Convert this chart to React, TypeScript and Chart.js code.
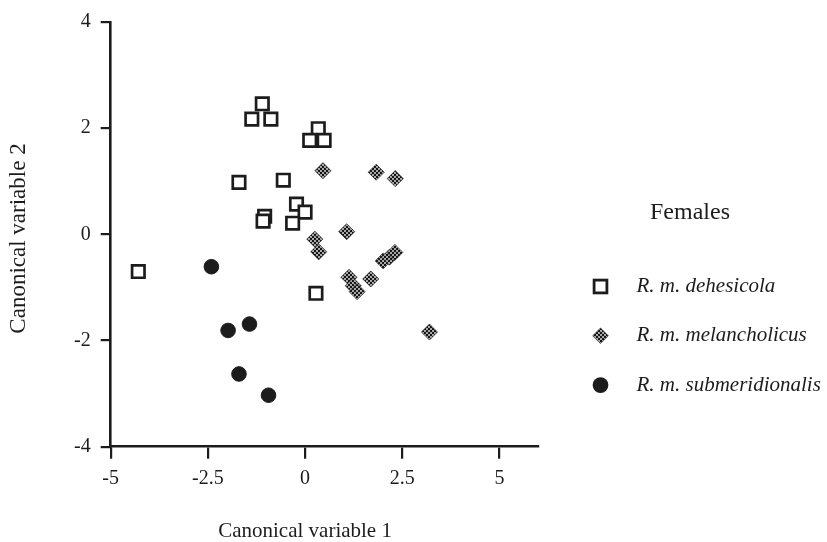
import React, { useEffect, useRef } from 'react';
import { Chart, registerables } from 'chart.js';

Chart.register(...registerables);

const seriesNames = ['R. m. dehesicola', 'R. m. melancholicus', 'R. m. submeridionalis'];

const dehesicolaX = [-1.1, -1.37, -0.88, 0.34, 0.12, 0.49, -1.7, -0.56, -0.22, 0.0, -0.32, -1.04, -1.08, -4.29, 0.28];
const dehesicolaY = [2.46, 2.17, 2.17, 1.99, 1.77, 1.77, 0.98, 1.02, 0.57, 0.42, 0.21, 0.34, 0.25, -0.7, -1.11];

const melancholicusX = [0.46, 1.83, 2.32, 0.25, 0.35, 1.07, 2.01, 2.17, 2.31, 1.13, 1.24, 1.34, 1.69, 3.2];
const melancholicusY = [1.2, 1.17, 1.05, -0.09, -0.33, 0.05, -0.5, -0.43, -0.34, -0.81, -0.97, -1.08, -0.84, -1.84];

const submeridionalisX = [-2.41, -1.98, -1.43, -1.7, -0.94];
const submeridionalisY = [-0.61, -1.81, -1.69, -2.63, -3.03];

const xTicks = [-5, -2.5, 0, 2.5, 5];
const yTicks = [-4, -2, 0, 2, 4];
const xTitle = 'Canonical variable 1';
const yTitle = 'Canonical variable 2';
const legendTitle = 'Females';

const FONT = '"Liberation Serif", "Times New Roman", serif';
const INK = '#1c1c1c';

const W = 827;
const H = 542;

function zip(xs: number[], ys: number[]) {
  return xs.map((x, i) => ({ x, y: ys[i] }));
}

function makePattern(): CanvasPattern | string {
  const pc = document.createElement('canvas');
  pc.width = 4;
  pc.height = 4;
  const g = pc.getContext('2d');
  if (!g) return '#555';
  g.fillStyle = '#a8a8a8';
  g.fillRect(0, 0, 4, 4);
  g.fillStyle = '#161616';
  g.fillRect(0, 0, 2, 2);
  g.fillRect(2, 2, 2, 2);
  const p = g.createPattern(pc, 'repeat');
  return p || '#555';
}

export default function App() {
  const ref = useRef<HTMLCanvasElement | null>(null);

  useEffect(() => {
    const canvas = ref.current;
    if (!canvas) return;
    const pattern = makePattern();

    const annot = {
      id: 'annot',
      afterDraw(chart: any) {
        const ctx = chart.ctx as CanvasRenderingContext2D;
        const xs = chart.scales.x;
        ctx.save();
        ctx.fillStyle = INK;
        ctx.textBaseline = 'middle';
        ctx.textAlign = 'center';
        ctx.font = `21px ${FONT}`;
        ctx.fillText(xTitle, xs.getPixelForValue(0), 531.5);

        ctx.save();
        ctx.translate(19, 238.5);
        ctx.rotate(-Math.PI / 2);
        ctx.font = `23px ${FONT}`;
        ctx.fillText(yTitle, 0, 0);
        ctx.restore();

        // legend
        ctx.textAlign = 'left';
        ctx.font = `24px ${FONT}`;
        ctx.fillText(legendTitle, 650, 213);

        const mx = 600.5;
        const y0 = 286.5;
        const dy = 49.3;
        ctx.font = `italic 21px ${FONT}`;
        seriesNames.forEach((name, i) => {
          const cy = y0 + i * dy;
          ctx.fillStyle = INK;
          ctx.fillText(name, 636.5, cy);
          ctx.save();
          if (i === 0) {
            ctx.fillStyle = '#ffffff';
            ctx.strokeStyle = INK;
            ctx.lineWidth = 2.8;
            ctx.fillRect(mx - 6.4, cy - 6.4, 12.8, 12.8);
            ctx.strokeRect(mx - 6.4, cy - 6.4, 12.8, 12.8);
          } else if (i === 1) {
            ctx.beginPath();
            ctx.moveTo(mx - 7.8, cy);
            ctx.lineTo(mx, cy - 7.8);
            ctx.lineTo(mx + 7.8, cy);
            ctx.lineTo(mx, cy + 7.8);
            ctx.closePath();
            ctx.fillStyle = pattern as any;
            ctx.fill();
            ctx.strokeStyle = '#333';
            ctx.lineWidth = 0.8;
            ctx.stroke();
          } else {
            ctx.beginPath();
            ctx.arc(mx, cy, 7.9, 0, Math.PI * 2);
            ctx.fillStyle = INK;
            ctx.fill();
          }
          ctx.restore();
        });
        ctx.restore();
      },
    };

    const chart = new Chart(canvas, {
      type: 'scatter',
      data: {
        datasets: [
          {
            label: seriesNames[0],
            data: zip(dehesicolaX, dehesicolaY),
            pointStyle: 'rect',
            pointRadius: 8.8,
            borderWidth: 2.7,
            borderColor: INK,
            backgroundColor: '#ffffff',
            order: 1,
          },
          {
            label: seriesNames[1],
            data: zip(melancholicusX, melancholicusY),
            pointStyle: 'rectRot',
            pointRadius: 8,
            borderWidth: 0.8,
            borderColor: '#333333',
            backgroundColor: pattern as any,
            order: 2,
          },
          {
            label: seriesNames[2],
            data: zip(submeridionalisX, submeridionalisY),
            pointStyle: 'circle',
            pointRadius: 7.3,
            borderWidth: 1,
            borderColor: INK,
            backgroundColor: INK,
            order: 3,
          },
        ],
      },
      options: {
        animation: false,
        responsive: false,
        devicePixelRatio: 1,
        layout: { padding: { left: 0, top: 20, right: W - 538.3, bottom: 0 } },
        plugins: {
          legend: { display: false },
          tooltip: { enabled: false },
        },
        scales: {
          x: {
            type: 'linear',
            position: 'bottom',
            min: -5,
            max: 6,
            afterBuildTicks: (s: any) => {
              s.ticks = xTicks.map((v) => ({ value: v }));
            },
            afterFit: (s: any) => {
              s.height = H - 446.7;
            },
            ticks: {
              autoSkip: false,
              maxRotation: 0,
              padding: 8,
              color: INK,
              font: { family: FONT, size: 20 },
              callback: (v: any) => String(v),
            },
            grid: {
              drawOnChartArea: false,
              drawTicks: true,
              tickLength: 12,
              color: INK,
              lineWidth: 2.2,
            },
            border: { display: true, color: INK, width: 2.6 },
            title: { display: false },
          },
          y: {
            type: 'linear',
            position: 'left',
            min: -4,
            max: 4,
            afterBuildTicks: (s: any) => {
              s.ticks = yTicks.map((v) => ({ value: v }));
            },
            afterFit: (s: any) => {
              s.width = 110.7;
            },
            ticks: {
              autoSkip: false,
              padding: 10,
              color: INK,
              font: { family: FONT, size: 20 },
              callback: (v: any) => String(v),
            },
            grid: {
              drawOnChartArea: false,
              drawTicks: true,
              tickLength: 10,
              color: INK,
              lineWidth: 2.2,
            },
            border: { display: true, color: INK, width: 2.6 },
            title: { display: false },
          },
        },
      },
      plugins: [annot],
    });

    return () => {
      chart.destroy();
    };
  }, []);

  return (
    <div style={{ position: 'fixed', left: 0, top: 0, width: W, height: H, background: '#fff' }}>
      <canvas ref={ref} width={W} height={H} style={{ width: W, height: H, display: 'block' }} />
    </div>
  );
}
